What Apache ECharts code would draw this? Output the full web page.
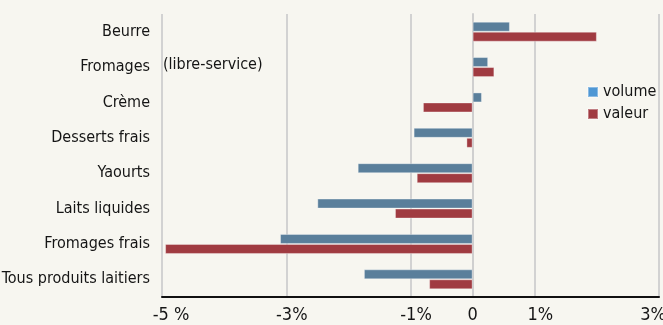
<!DOCTYPE html>
<html>
<head>
<meta charset="utf-8">
<script src="https://cdn.jsdelivr.net/npm/echarts@6/dist/echarts.min.js"></script>
<style>
  html, body { margin: 0; padding: 0; background: #f7f6f0; }
  #chart { width: 663px; height: 325px; }
</style>
</head>
<body>
<div id="chart"></div>
<script>
// Évolution des ventes de produits laitiers (%), volume et valeur
const categories = ['Beurre', 'Fromages', 'Crème', 'Desserts frais', 'Yaourts', 'Laits liquides', 'Fromages frais', 'Tous produits laitiers'];
const volume = [0.6, 0.25, 0.15, -0.95, -1.85, -2.5, -3.1, -1.75];
const valeur = [2.0, 0.35, -0.8, -0.1, -0.9, -1.25, -4.95, -0.7];
const tickLabels = { '-5': '-5 %', '-3': '-3%', '-1': '-1%', '0': '0', '1': '1%', '3': '3%' };
const gridValues = [-5, -3, -1, 1, 3];
const noteText = '(libre-service)';

const FONT = '"DejaVu Sans Condensed", "Liberation Sans Narrow", sans-serif';
const TEXT = '#151515';

const chart = echarts.init(document.getElementById('chart'), null, { renderer: 'canvas' });

// Tick label styles: the number sits on the tick, the "%" hangs to its right;
// the last label is pulled back inside the right edge
const tickRich = {
  n: { fontFamily: FONT, fontSize: 18, color: TEXT },
  p: { fontFamily: FONT, fontSize: 18, color: TEXT, padding: [0, 0, 0, 11] },
  w: { fontFamily: FONT, fontSize: 18, color: TEXT, padding: [0, 0, 0, 18] },
  e: { fontFamily: FONT, fontSize: 18, color: TEXT, padding: [0, 12, 0, 0] }
};

chart.setOption({
  backgroundColor: '#f7f6f0',
  animation: false,
  grid: { left: 162, right: 4, top: 14, bottom: 28, outerBoundsMode: 'none', containLabel: false },
  legend: {
    orient: 'vertical',
    left: 582,
    top: 79,
    itemWidth: 10,
    itemHeight: 10,
    itemGap: 6,
    icon: 'rect',
    textStyle: { fontFamily: FONT, fontSize: 16, color: TEXT },
    data: [
      { name: 'volume', itemStyle: { color: '#4f97d4' } },
      { name: 'valeur', itemStyle: { color: '#a03b41' } }
    ]
  },
  xAxis: {
    type: 'value',
    min: -5,
    max: 3,
    interval: 1,
    axisLine: { show: true, lineStyle: { color: '#111', width: 2 } },
    axisTick: { show: false },
    splitLine: { show: false },
    axisLabel: {
      margin: 9,
      fontFamily: FONT,
      fontSize: 18,
      color: TEXT,
      hideOverlap: false,
      rich: tickRich,
      formatter: v => {
        const t = tickLabels[String(v)];
        if (!t) return '';
        if (v === 3) return '{e|' + t + '}';
        if (t.indexOf(' ') >= 0) return '{w|' + t + '}';
        if (t.indexOf('%') >= 0) return '{p|' + t + '}';
        return '{n|' + t + '}';
      }
    }
  },
  yAxis: {
    type: 'category',
    inverse: true,
    data: categories,
    axisLine: { show: true, onZero: true, lineStyle: { color: '#cfcfcf', width: 2 } },
    axisTick: { show: false },
    axisLabel: { margin: 12, fontFamily: FONT, fontSize: 16, color: TEXT }
  },
  series: [
    {
      name: 'volume',
      type: 'bar',
      data: volume,
      barWidth: 10,
      barGap: '0%',
      itemStyle: { color: '#5a7f9b', borderColor: 'rgba(255,255,255,0.35)', borderWidth: 1 },
      markLine: {
        silent: true,
        z: 0,
        symbol: 'none',
        label: { show: false },
        lineStyle: { color: '#d2d2d2', width: 2, type: 'solid' },
        data: gridValues.map(v => ({ xAxis: v }))
      }
    },
    {
      name: 'valeur',
      type: 'bar',
      data: valeur,
      barWidth: 10,
      barGap: '0%',
      itemStyle: { color: '#a03b41', borderColor: 'rgba(255,255,255,0.35)', borderWidth: 1 }
    }
  ]
});

// Qualifier printed beside the "Fromages" row
const noteY = chart.convertToPixel({ yAxisIndex: 0 }, 'Fromages');
const noteX = chart.convertToPixel({ xAxisIndex: 0 }, -5);
chart.setOption({
  graphic: [{
    type: 'text',
    left: noteX + 1,
    top: noteY - 10,
    style: { text: noteText, fontFamily: FONT, fontSize: 16, fill: TEXT }
  }]
});
</script>
</body>
</html>
